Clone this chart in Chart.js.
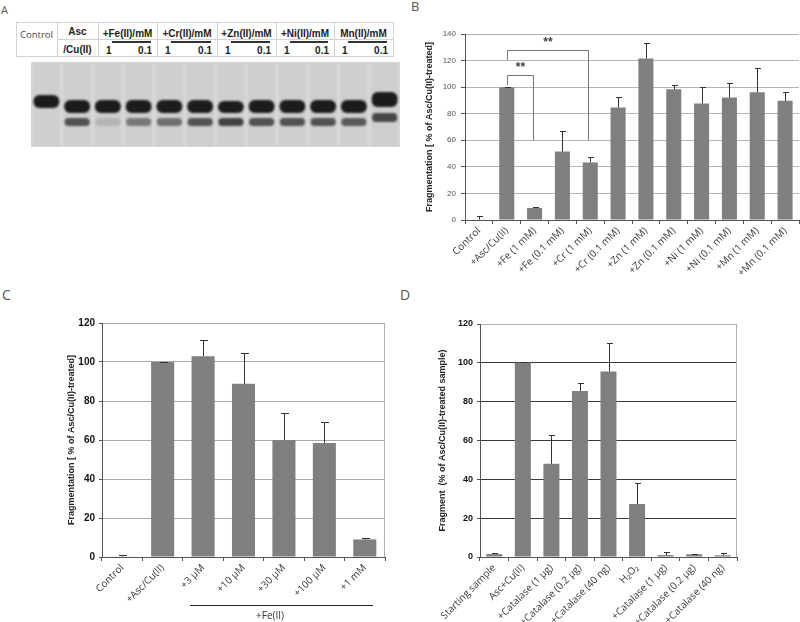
<!DOCTYPE html>
<html><head><meta charset="utf-8">
<script src="https://cdn.jsdelivr.net/npm/chart.js@4.4.0/dist/chart.umd.min.js"></script>
<style>
html,body{margin:0;padding:0;background:#fff;}
#wrap{position:relative;width:800px;height:622px;overflow:hidden;background:#fff;font-family:"Liberation Sans",Arial,sans-serif;}
.t{position:absolute;white-space:nowrap;line-height:10px;}
.b{font-weight:bold;font-size:10px;color:#222;}
.pl{position:absolute;font-family:"Open Sans",sans-serif;color:#555;line-height:1;}
.ln{position:absolute;}
canvas{position:absolute;}
</style></head><body>
<div id="wrap">
  <div class="pl" style="left:1px;top:4px;font-size:11px;">A</div>
  <div class="pl" style="left:411px;top:0px;font-size:13px;">B</div>
  <div class="pl" style="left:2px;top:288px;font-size:14px;">C</div>
  <div class="pl" style="left:400px;top:288px;font-size:14px;">D</div>
  <div id="table"></div>
  <canvas id="gel" width="369" height="85" style="left:31px;top:62px;"></canvas>
  <canvas id="cB" width="385" height="290" style="left:415px;top:20px;"></canvas>
  <canvas id="cC" width="350" height="312" style="left:50px;top:310px;"></canvas>
  <canvas id="cD" width="375" height="312" style="left:425px;top:310px;"></canvas>
  <div class="ln" style="left:190px;top:605px;width:183px;height:1px;background:#222;"></div>
  <div class="pl" style="left:240px;top:610px;width:60px;text-align:center;font-size:10px;color:#333;">+Fe(II)</div>
</div>
<script>
// ---------- DATA ----------
// Panel A (gel)
const gelLanes = ['Control','Asc/Cu(II)','Fe 1','Fe 0.1','Cr 1','Cr 0.1','Zn 1','Zn 0.1','Ni 1','Ni 0.1','Mn 1','Mn 0.1'];
const gelHeaders = ['+Fe(II)/mM','+Cr(II)/mM','+Zn(II)/mM','+Ni(II)/mM','Mn(II)/mM'];
const gelConcs = ['1','0.1'];
const gelUpperBand = [[33,46],[38,51],[38,51],[38,51],[38,51],[38,51],[39,51],[38,51],[38,51],[38,51],[38,51],[30,45]];
const gelLowerBand = [[56,56],[56,64],[56,64],[56,64],[56,64],[56,64],[56,64],[56,64],[56,64],[56,64],[56,64],[51,60]];
const gelLowerIntensity = [0,0.72,0.15,0.5,0.55,0.72,0.82,0.72,0.72,0.72,0.68,0.78];

// Panel B
const catB = ['Control','+Asc/Cu(II)','+Fe (1 mM)','+Fe (0.1 mM)','+Cr (1 mM)','+Cr (0.1 mM)','+Zn (1 mM)','+Zn (0.1 mM)','+Ni (1 mM)','+Ni (0.1 mM)','+Mn (1 mM)','+Mn (0.1 mM)'];
const valB = [0.3, 100, 9, 51.5, 43.3, 84.7, 121.5, 98.4, 87.7, 92.2, 96.2, 89.7];
const errB = [2.5, 0.3, 0.8, 15.7, 4, 7.7, 11.6, 3.5, 12.2, 11.2, 18, 6.7];
const yTicksB = [0,20,40,60,80,100,120,140];

// Panel C
const catC = ['Control','+Asc/Cu(II)','+3 \u00b5M','+10 \u00b5M','+30 \u00b5M','+100 \u00b5M','+1 mM'];
const valC = [0.3, 100, 103, 88.8, 60, 58.5, 9];
const errC = [0.8, 0.2, 8.2, 15.9, 14, 10.5, 0.6];
const yTicksC = [0,20,40,60,80,100,120];

// Panel D
const catD = ['Starting sample','Asc+Cu(II)','+Catalase (1 \u00b5g)','+Catalase (0.2 \u00b5g)','+Catalase (40 ng)','H\u2082O\u2082','+Catalase (1 \u00b5g)','+Catalase (0.2 \u00b5g)','+Catalase (40 ng)'];
const valD = [1.5, 100, 48, 85.5, 95.5, 27.3, 1, 1.4, 0.9];
const errD = [0.5, 0.2, 14.9, 4.2, 14.5, 10.7, 1.4, 0.2, 1];
const yTicksD = [0,20,40,60,80,100,120];

// ---------- TABLE (panel A header) ----------
(function(){
  const T = document.getElementById('table');
  const colX = [16,57,98,157,217,276,334,393];
  const top = 22, mid = 39, bot = 56, bc = '#d2d2d2';
  function line(l,t,w,h,c){const d=document.createElement('div');d.className='ln';d.style.cssText=`left:${l}px;top:${t}px;width:${w}px;height:${h}px;background:${c};`;T.appendChild(d);}
  function text(txt,l,t,w,align,cls,extra){const d=document.createElement('div');d.className='t '+cls;d.textContent=txt;d.style.cssText=`left:${l}px;top:${t}px;width:${w}px;text-align:${align};`+(extra||'');T.appendChild(d);}
  line(colX[0],top,colX[7]-colX[0]+1,1,bc);
  line(colX[0],bot,colX[7]-colX[0]+1,1,bc);
  line(colX[1],mid,colX[7]-colX[1],1,bc);
  colX.forEach(x=>line(x,top,1,bot-top,bc));
  text('Control',colX[0],30,colX[1]-colX[0],'center','', 'font-family:"Open Sans",sans-serif;font-size:9.5px;color:#444;');
  text('Asc',colX[1],26.5,colX[2]-colX[1],'center','b');
  text('/Cu(II)',colX[1],44.5,colX[2]-colX[1],'center','b');
  gelHeaders.forEach((h,i)=>{
    const x0=colX[i+2], x1=colX[i+3];
    text(h,x0,28.5,x1-x0,'center','b');
    line(x0+14,41,x1-x0-20,1.5,'#333');
    text(gelConcs[0],x0+8,45.5,20,'left','b');
    text(gelConcs[1],x1-30,45.5,25,'right','b');
  });
})();

// ---------- PLUGINS ----------
const errbars = {
  id:'errbars',
  afterDatasetsDraw(chart,args,opts){
    if(!opts.errors) return;
    const ctx=chart.ctx, ys=chart.scales.y, meta=chart.getDatasetMeta(0);
    const vals=chart.data.datasets[0].data;
    ctx.save(); ctx.strokeStyle=opts.color||'#333'; ctx.lineWidth=1;
    meta.data.forEach((bar,i)=>{
      const x=Math.round(bar.x)+0.5;
      const y0=ys.getPixelForValue(vals[i]);
      const y1=Math.round(ys.getPixelForValue(vals[i]+opts.errors[i]))+0.5;
      ctx.beginPath(); ctx.moveTo(x,y0); ctx.lineTo(x,y1);
      ctx.moveTo(x-opts.cap,y1); ctx.lineTo(x+opts.cap+1,y1); ctx.stroke();
    });
    ctx.restore();
  }
};
const rightBorder = {
  id:'rightBorder',
  afterDraw(chart,args,opts){
    if(!opts.color) return;
    const {ctx,chartArea:a}=chart;
    ctx.save(); ctx.strokeStyle=opts.color; ctx.lineWidth=1;
    ctx.beginPath(); ctx.moveTo(Math.round(a.right)-0.5,a.top); ctx.lineTo(Math.round(a.right)-0.5,a.bottom); ctx.stroke();
    ctx.restore();
  }
};
const brackets = {
  id:'brackets',
  afterDatasetsDraw(chart,args,opts){
    if(!opts.items) return;
    const ctx=chart.ctx, ys=chart.scales.y, xs=chart.scales.x;
    ctx.save(); ctx.strokeStyle='#777'; ctx.lineWidth=1;
    opts.items.forEach(b=>{
      const xa=Math.round(xs.getPixelForValue(b.from))+0.5;
      const xb=Math.round(xs.getPixelForValue(b.to))-1.5;
      const ya=ys.getPixelForValue(b.low), yt=Math.round(ys.getPixelForValue(b.top))+0.5, ye=ys.getPixelForValue(b.end);
      ctx.beginPath(); ctx.moveTo(xa,ya); ctx.lineTo(xa,yt); ctx.lineTo(xb,yt); ctx.lineTo(xb,ye); ctx.stroke();
      ctx.fillStyle='#444'; ctx.font='bold 12px "Liberation Sans", Arial'; ctx.textAlign='center'; ctx.textBaseline='alphabetic';
      ctx.fillText(b.label,(xa+xb)/2,ys.getPixelForValue(b.star)+6.5);
    });
    ctx.restore();
  }
};
const gelFx = {
  id:'gelFx',
  beforeDraw(chart){const c=chart.ctx;c.save();c.fillStyle='#d9d9d9';c.fillRect(0,0,chart.width,chart.height);c.restore();},
  beforeDatasetsDraw(chart){chart.ctx.save();chart.ctx.filter='blur(1.3px)';},
  afterDatasetsDraw(chart){chart.ctx.restore();}
};

// ---------- GEL ----------
new Chart(document.getElementById('gel'),{
  type:'bar',
  data:{labels:gelLanes,datasets:[
    {data:gelLanes.map(()=>[0,85]),backgroundColor:'rgba(0,0,0,0.045)',barPercentage:0.9,categoryPercentage:1,grouped:false},
    {data:gelUpperBand,backgroundColor:'rgba(20,20,20,0.95)',borderRadius:6,borderSkipped:false,barPercentage:0.84,categoryPercentage:1,grouped:false},
    {data:gelLowerBand,backgroundColor:gelLowerIntensity.map(a=>`rgba(35,35,35,${a})`),borderRadius:4,borderSkipped:false,barPercentage:0.82,categoryPercentage:1,grouped:false}
  ]},
  options:{responsive:false,animation:false,layout:{padding:0},
    plugins:{legend:{display:false},tooltip:{enabled:false}},
    scales:{x:{display:false},y:{display:false,min:0,max:85,reverse:true}}},
  plugins:[gelFx]
});

// ---------- BAR CHART FACTORY ----------
function barChart(id,cfg){
  return new Chart(document.getElementById(id),{
    type:'bar',
    data:{labels:cfg.labels,datasets:[{data:cfg.values,backgroundColor:'#7f7f7f',barPercentage:cfg.barPct,categoryPercentage:1}]},
    options:{responsive:false,animation:false,
      layout:{padding:cfg.padding},
      plugins:{legend:{display:false},tooltip:{enabled:false},
        errbars:{errors:cfg.errors,cap:cfg.cap,color:'#333'},
        rightBorder:{color:cfg.rightBorder},
        brackets:{items:cfg.brackets}},
      scales:{
        x:{afterFit:s=>{s.height=cfg.xHeight;},
          grid:{display:true,drawOnChartArea:false,drawTicks:true,tickLength:4,color:'#555',offset:true},
          border:{display:true,color:'#555'},
          ticks:{autoSkip:false,minRotation:45,maxRotation:45,padding:1,color:'#3a3a3a',font:{family:'"Open Sans","DejaVu Sans",sans-serif',size:cfg.xFont}}},
        y:{min:0,max:cfg.yTicks[cfg.yTicks.length-1],
          afterBuildTicks:s=>{s.ticks=cfg.yTicks.map(v=>({value:v}));},
          afterFit:s=>{s.width=cfg.yWidth;},
          grid:{color:cfg.gridColor,tickColor:'#555',tickLength:cfg.tickLen,drawTicks:true},
          border:{display:true,color:'#555'},
          ticks:{padding:cfg.tickPad,color:cfg.yTickColor,font:{family:'"Liberation Sans",Arial,sans-serif',size:cfg.yFont,weight:cfg.yWeight}},
          title:{display:true,text:cfg.title,color:'#222',padding:{top:cfg.titlePad,bottom:0},font:{family:'"Liberation Sans",Arial,sans-serif',size:9,weight:'bold'}}}
      }},
    plugins:[errbars,rightBorder,brackets]
  });
}

barChart('cB',{labels:catB,values:valB,errors:errB,yTicks:yTicksB,barPct:0.54,cap:2.5,
  padding:{top:14,right:1,left:0,bottom:0},xHeight:90,yWidth:50,tickLen:4,tickPad:5,
  gridColor:'#b4b4b4',yTickColor:'#555',yFont:8,yWeight:'normal',xFont:10,titlePad:9,
  title:'Fragmentation [ % of Asc/Cu(II)-treated]',rightBorder:null,
  brackets:[{from:1,to:2,low:101.5,top:109,end:60,star:116.7,label:'**'},
            {from:1,to:4,low:120.5,top:128,end:60,star:135.5,label:'**'}]});

barChart('cC',{labels:catC,values:valC,errors:errC,yTicks:yTicksC,barPct:0.57,cap:3.5,
  padding:{top:13,right:15,left:0,bottom:0},xHeight:65,yWidth:52,tickLen:3,tickPad:4,
  gridColor:'#a8a8a8',yTickColor:'#111',yFont:10,yWeight:'bold',xFont:10,titlePad:16.6,
  title:'Fragmentation [ % of Asc/Cu(II)-treated]',rightBorder:'#b0b0b0',brackets:null});

barChart('cD',{labels:catD,values:valD,errors:errD,yTicks:yTicksD,barPct:0.56,cap:2.5,
  padding:{top:14,right:63,left:0,bottom:0},xHeight:65,yWidth:55,tickLen:3,tickPad:4,
  gridColor:(c)=> (c.tick && c.tick.value===120) ? '#b4b4b4' : '#3a3a3a',
  yTickColor:'#111',yFont:9,yWeight:'bold',xFont:10,titlePad:12.6,
  title:'Fragment  (% of Asc/Cu(II)-treated sample)',rightBorder:'#b0b0b0',brackets:null});
</script>
</body></html>
